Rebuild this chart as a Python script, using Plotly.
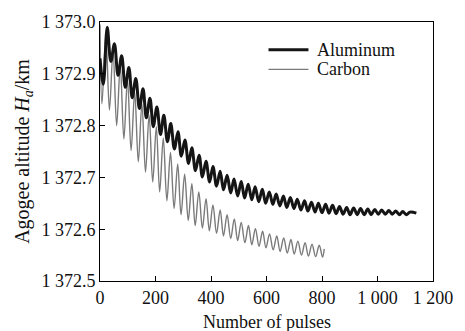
import plotly.graph_objects as go

# Aluminum: extrema (pulse, altitude km)
al_peak_pulse = [0, 26, 52, 78, 104, 129, 155, 180, 205, 230, 255, 281, 306, 331, 357, 382, 407, 433,
                 458, 483, 509, 534, 559, 585, 610, 635, 661, 686, 711, 737, 762, 787, 813, 838,
                 863, 889, 914, 939, 965, 990, 1015, 1041, 1066, 1091, 1117]
al_peak_val = [1372.930, 1372.990, 1372.958, 1372.935, 1372.912, 1372.891, 1372.871, 1372.853, 1372.836,
               1372.820, 1372.804, 1372.788, 1372.772, 1372.757, 1372.743, 1372.731, 1372.721, 1372.712,
               1372.704, 1372.697, 1372.692, 1372.687, 1372.682, 1372.677, 1372.672, 1372.668, 1372.664,
               1372.661, 1372.658, 1372.655, 1372.652, 1372.650, 1372.648, 1372.646, 1372.644, 1372.642,
               1372.641, 1372.640, 1372.639, 1372.638, 1372.637, 1372.636, 1372.635, 1372.634, 1372.633]
al_trough_pulse = [12, 39, 65, 91, 116, 142, 167, 192, 218, 243, 268, 293, 319, 344, 369, 395, 420, 445,
                   471, 496, 521, 547, 572, 597, 623, 648, 673, 699, 724, 749, 775, 800, 825, 851,
                   876, 901, 927, 952, 977, 1003, 1028, 1053, 1079, 1104, 1140]
al_trough_val = [1372.880, 1372.924, 1372.897, 1372.874, 1372.854, 1372.833, 1372.815, 1372.798, 1372.783,
                 1372.769, 1372.755, 1372.741, 1372.727, 1372.713, 1372.701, 1372.691, 1372.683, 1372.676,
                 1372.670, 1372.664, 1372.660, 1372.657, 1372.653, 1372.650, 1372.648, 1372.645, 1372.642,
                 1372.640, 1372.637, 1372.635, 1372.633, 1372.632, 1372.631, 1372.630, 1372.629, 1372.628,
                 1372.628, 1372.628, 1372.628, 1372.629, 1372.629, 1372.629, 1372.628, 1372.628, 1372.631]

# Carbon: extrema
c_peak_pulse = [0, 21, 47, 73, 99, 125, 151, 177, 203, 228, 254, 280, 305, 331, 356, 382, 407, 433, 458,
                484, 509, 535, 560, 586, 611, 637, 662, 688, 713, 739, 764, 790, 808]
c_peak_val = [1372.995, 1372.975, 1372.945, 1372.916, 1372.890, 1372.865, 1372.842, 1372.820, 1372.798,
              1372.776, 1372.748, 1372.726, 1372.706, 1372.688, 1372.672, 1372.659, 1372.647, 1372.637,
              1372.628, 1372.620, 1372.613, 1372.607, 1372.601, 1372.596, 1372.591, 1372.587, 1372.583,
              1372.580, 1372.577, 1372.574, 1372.571, 1372.569, 1372.562]
c_trough_pulse = [7, 34, 60, 86, 112, 138, 164, 190, 215, 241, 267, 292, 318, 343, 369, 394, 420, 445,
                  471, 496, 522, 547, 573, 598, 624, 649, 675, 700, 726, 751, 777, 802]
c_trough_val = [1372.842, 1372.830, 1372.800, 1372.774, 1372.752, 1372.730, 1372.710, 1372.691, 1372.672,
                1372.655, 1372.640, 1372.628, 1372.617, 1372.607, 1372.602, 1372.597, 1372.592, 1372.587,
                1372.582, 1372.578, 1372.574, 1372.570, 1372.567, 1372.564, 1372.560, 1372.557, 1372.554,
                1372.552, 1372.550, 1372.548, 1372.547, 1372.546]

x_tick_vals = [0, 200, 400, 600, 800, 1000, 1200]
x_tick_text = ["0", "200", "400", "600", "800", "1 000", "1 200"]
y_tick_vals = [1372.5, 1372.6, 1372.7, 1372.8, 1372.9, 1373.0]
y_tick_text = ["1 372.5", "1 372.6", "1 372.7", "1 372.8", "1 372.9", "1 373.0"]
series_names = ["Aluminum", "Carbon"]
x_title = "Number of pulses"
y_title = "Agogee altitude <i>H<sub>a</sub></i>/km"


def merge(p1, v1, p2, v2):
    pts = sorted(zip(p1 + p2, v1 + v2))
    return [p for p, _ in pts], [v for _, v in pts]


al_x, al_y = merge(al_peak_pulse, al_peak_val, al_trough_pulse, al_trough_val)
c_x, c_y = merge(c_peak_pulse, c_peak_val, c_trough_pulse, c_trough_val)

FONT = "Liberation Serif"
AL_COLOR, AL_W = "#151515", 3
C_COLOR, C_W = "#7a7a7a", 1.4

fig = go.Figure()
fig.add_trace(go.Scatter(x=c_x, y=c_y, mode="lines", name=series_names[1], showlegend=False,
                         line=dict(color=C_COLOR, width=C_W, shape="spline", smoothing=1.0)))
fig.add_trace(go.Scatter(x=al_x, y=al_y, mode="lines", name=series_names[0], showlegend=False,
                         line=dict(color=AL_COLOR, width=AL_W, shape="spline", smoothing=1.0)))

axis_common = dict(showline=True, linecolor="black", linewidth=1, mirror=True,
                   ticks="inside", ticklen=5, tickcolor="black", showgrid=False, zeroline=False,
                   tickfont=dict(family=FONT, size=18, color="#111"))

fig.update_xaxes(range=[0, 1200], tickvals=x_tick_vals, ticktext=x_tick_text, **axis_common)
fig.update_yaxes(range=[1372.5, 1373.0], tickvals=y_tick_vals, ticktext=y_tick_text,
                 title=dict(text=y_title, font=dict(family=FONT, size=20, color="#111"), standoff=6),
                 **axis_common)

# x-axis title placed as annotation so it sits at the bottom like the reference
fig.add_annotation(xref="paper", yref="paper", x=0.5, y=-0.158, text=x_title, showarrow=False,
                   xanchor="center", yanchor="middle", font=dict(family=FONT, size=18, color="#111"))

# manual legend (line samples + labels)
legend_rows = [(series_names[0], AL_COLOR, AL_W, 0.893), (series_names[1], C_COLOR, C_W, 0.817)]
for name, col, w, yy in legend_rows:
    fig.add_shape(type="line", xref="paper", yref="paper", x0=0.506, x1=0.626, y0=yy, y1=yy,
                  line=dict(color=col, width=w))
    fig.add_annotation(xref="paper", yref="paper", x=0.645, y=yy, text=name, showarrow=False,
                       xanchor="left", yanchor="middle",
                       font=dict(family=FONT, size=18, color="#111"))

fig.update_layout(
    width=465, height=331,
    margin=dict(l=100, r=25, t=19, b=50),
    plot_bgcolor="white", paper_bgcolor="white",
    showlegend=False,
)

fig.write_html("out.html")
